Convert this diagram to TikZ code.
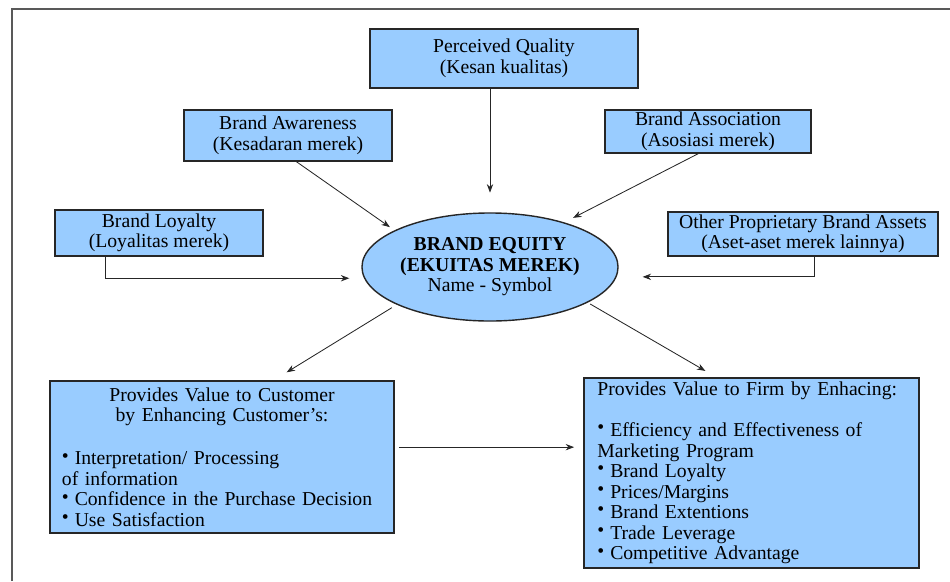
\documentclass[tikz,border=0pt]{standalone}
\usepackage{fontspec}
\setmainfont{Liberation Serif}
\usetikzlibrary{shapes.geometric, arrows.meta}
\definecolor{boxblue}{HTML}{99CCFF}
\newcommand{\bul}{\raisebox{.3ex}{\textbullet}\hspace{.3em}}

\begin{document}
\begin{tikzpicture}[x = 0.025cm, y = -0.025cm,
    >={Stealth[length = 6pt, width = 4.5pt]},
    box/.style = {rectangle, draw = black!85, line width = 1pt, fill = boxblue, align = center, inner sep = 0pt},
    bigbox/.style = {box, align = left},
    conn/.style = {->, line width = .6pt, black!85},
    font = \fontsize{14}{14.6}\selectfont]
  \useasboundingbox (0,0) rectangle (950,581);
  \draw [line width = 1.4pt, black!65] (12,581) -- (12,9) -- (950,9);

  \node (equity)  at (490,267) [ellipse, draw = black!85, line width = 1pt, fill = boxblue, align = center,
      inner xsep = -4pt, inner ysep = 0pt, minimum width = 6.4cm, minimum height = 2.7cm]
      {\textbf{BRAND EQUITY}\\\textbf{(EKUITAS MEREK)}\\Name - Symbol};
  \node (quality) at (504,58.5) [box, minimum width = 6.7cm, minimum height = 1.475cm] {Perceived Quality\\(Kesan kualitas)};
  \node (aware)   at (288,135.5) [box, minimum width = 5.2cm, minimum height = 1.275cm] {Brand Awareness\\(Kesadaran merek)};
  \node (assoc)   at (708,131.5) [box, minimum width = 5.15cm, minimum height = 1.075cm] {Brand Association\\(Asosiasi merek)};
    \node (loyal) at (159,233) [box, minimum width = 5.2cm, minimum height = 1.15cm] {Brand Loyalty\\(Loyalitas merek)};
    \node (other) at (803,234) [box, minimum width = 6.75cm, minimum height = 1.1cm] {Other Proprietary Brand Assets\\(Aset-aset merek lainnya)};
  \node (cust)    at (222,457) [bigbox, text width = 8cm, minimum width = 8.6cm, minimum height = 3.8cm]
      {{\centering Provides Value to Customer\\ by Enhancing Customer's:\par}\vspace{16pt}
       \bul Interpretation/ Processing\\ of information\\
       \bul Confidence in the Purchase Decision\\
       \bul Use Satisfaction};
  \node (firm)    at (751.5,473) [bigbox, text width = 7.7cm, minimum width = 8.375cm, minimum height = 4.75cm]
      {Provides Value to Firm by Enhacing:\par\vspace{14.5pt}
       \bul Efficiency and Effectiveness of\\ Marketing Program\\
       \bul Brand Loyalty\\
       \bul Prices/Margins\\
       \bul Brand Extentions\\
       \bul Trade Leverage\\
       \bul Competitive Advantage};

  \draw [conn, shorten >= 14pt] (quality.south -| equity.north) -- (equity.north);
  \draw [conn, shorten >= 4pt] ([xshift = 6pt]aware.south) -- (equity.159);
  \draw [conn, shorten >= 7pt] ([xshift = -7pt]assoc.south) -- (equity.31);
    \draw [conn, shorten >= 8.5pt] ([xshift = -38pt]loyal.south) |- ([yshift = -8pt]equity.west);
    \draw [conn, shorten >= 17pt] ([xshift = 8pt]other.south) |- ([yshift = -7pt]equity.east);
  \draw [conn, shorten <= 4pt, shorten >= 7pt] (equity.202) -- ([xshift = 40pt, yshift = 2pt]cust.north);
  \draw [conn, shorten <= 2pt, shorten >= 9pt] (equity.340) -- ([xshift = -25pt]firm.north);
  \draw [conn, shorten <= 3pt, shorten >= 6.5pt] ([yshift = 7pt]cust.east) -- ([yshift = 7pt]cust.east -| firm.west);
\end{tikzpicture}
\end{document}
